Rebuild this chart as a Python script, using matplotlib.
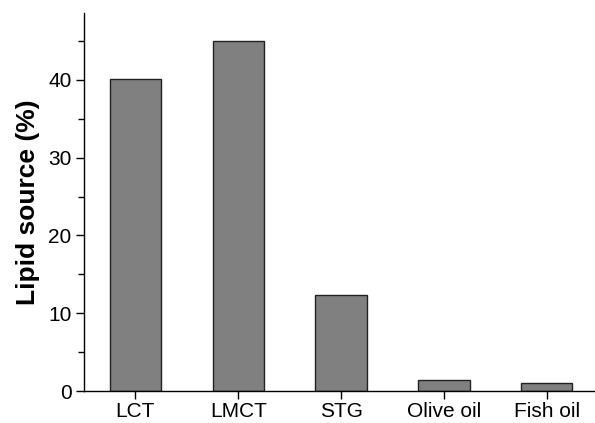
"""Lipid source bar chart."""

import matplotlib

matplotlib.use("Agg")
import matplotlib.pyplot as plt
from matplotlib.ticker import MultipleLocator

categories = ["LCT", "LMCT", "STG", "Olive oil", "Fish oil"]
lipid_source = [40.1, 45.0, 12.35, 1.38, 1.07]

plt.rcParams["font.family"] = ["Liberation Sans", "DejaVu Sans"]

figure = plt.figure(figsize=(5.95, 4.23), dpi=100)
axis = figure.add_axes([84 / 595, 32 / 423, 510 / 595, 378 / 423])

positions = range(len(categories))
axis.bar(positions, lipid_source, width=0.5, color="#808080",
         edgecolor="#222222", linewidth=1.0)

axis.set_xlim(-0.5, 4.46)
axis.set_ylim(0, 48.6)
axis.set_xticks(list(positions))
axis.set_xticklabels(categories)
axis.yaxis.set_major_locator(MultipleLocator(10))
axis.yaxis.set_minor_locator(MultipleLocator(5))

for side in ("top", "right"):
    axis.spines[side].set_visible(False)
for side in ("left", "bottom"):
    axis.spines[side].set_linewidth(1.0)

axis.tick_params(axis="both", which="major", direction="out", length=6,
                 width=1.0, labelsize=15, pad=2)
axis.tick_params(axis="y", which="major", pad=3)
axis.tick_params(axis="y", which="minor", direction="out", length=4, width=1.0)
axis.set_ylabel("Lipid source (%)", fontsize=19, fontweight="bold", labelpad=6)

figure.savefig("out.png", dpi=100)
plt.close(figure)
